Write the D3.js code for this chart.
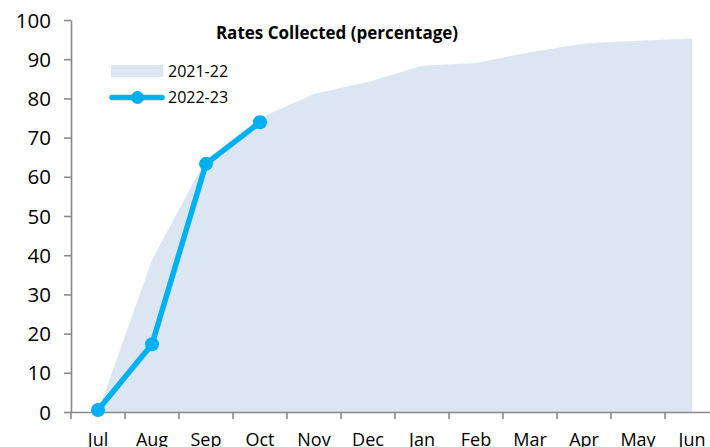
<!DOCTYPE html>
<html><head><meta charset="utf-8">
<script src="https://cdn.jsdelivr.net/npm/d3@7"></script>
<style>
body{margin:0;background:#fff;}
svg{display:block;}
text{font-family:"Open Sans",sans-serif;fill:#000;}
</style></head>
<body>
<svg id="chart" width="710" height="447"></svg>
<script>
const months = ["Jul","Aug","Sep","Oct","Nov","Dec","Jan","Feb","Mar","Apr","May","Jun"];
const values2122 = [0,38.8,64.5,75,81.1,84.2,88.3,89.0,91.8,94.0,94.7,95.3];
const values2223 = [0.5,17.3,63.3,73.9];
const yTicks = [0,10,20,30,40,50,60,70,80,90,100];
const seriesNames = ["2021-22","2022-23"];
const titleText = "Rates Collected (percentage)";

const svg = d3.select("#chart");
const x = d3.scaleBand().domain(months).range([71,719]).padding(0);
const y = d3.scaleLinear().domain([0,100]).range([412,20]);
const cx = d => x(d) + x.bandwidth()/2;

// area
const area = d3.area().x((d,i)=>cx(months[i])).y0(y(0)).y1(d=>y(d));
svg.append("path").datum(values2122).attr("d",area).attr("fill","#dce6f2");

// axes
const axisColor = "#898989";
const yAxis = svg.append("g").attr("transform","translate(71,0)")
  .call(d3.axisLeft(y).tickValues(yTicks).tickSize(7).tickPadding(13).tickSizeOuter(0));
yAxis.selectAll("text").style("font-size","20.5px").attr("dy","0.35em");
const xAxis = svg.append("g").attr("transform","translate(0,412)")
  .call(d3.axisBottom(x).tickSize(0).tickPadding(21).tickSizeOuter(0));
xAxis.selectAll("text").style("font-size","18px");
// tick marks between categories
xAxis.selectAll(".sep").data(months).enter().append("line").attr("class","sep")
  .attr("x1",d=>x(d)).attr("x2",d=>x(d)).attr("y1",0).attr("y2",7);
[yAxis,xAxis].forEach(g=>{
  g.selectAll("path,line").attr("stroke",axisColor).attr("stroke-width",1.6);
});

// line series
const line = d3.line().x((d,i)=>cx(months[i])).y(d=>y(d));
svg.append("path").datum(values2223).attr("d",line).attr("fill","none")
  .attr("stroke","#00b0f0").attr("stroke-width",5.5).attr("stroke-linejoin","round");
svg.selectAll(".mk").data(values2223).enter().append("circle")
  .attr("cx",(d,i)=>cx(months[i])).attr("cy",d=>y(d)).attr("r",7).attr("fill","#00b0f0");

// title
svg.append("text").attr("x",337).attr("y",39).attr("text-anchor","middle")
  .style("font-size","17px").style("font-weight","bold").text(titleText);

// legend
const lg = svg.append("g");
lg.append("rect").attr("x",111).attr("y",65).attr("width",52).attr("height",12).attr("fill","#dce6f2");
lg.append("text").attr("x",168).attr("y",77).style("font-size","16px").text(seriesNames[0]);
lg.append("line").attr("x1",112).attr("x2",162).attr("y1",97.5).attr("y2",97.5)
  .attr("stroke","#00b0f0").attr("stroke-width",5.5).attr("stroke-linecap","round");
lg.append("circle").attr("cx",137.5).attr("cy",97.5).attr("r",6.5).attr("fill","#00b0f0");
lg.append("text").attr("x",168).attr("y",103).style("font-size","16px").text(seriesNames[1]);
</script>
</body></html>
